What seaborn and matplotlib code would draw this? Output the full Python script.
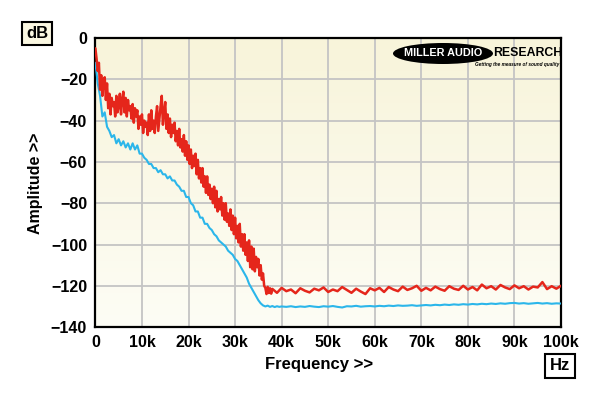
import numpy as np
import pandas as pd
import seaborn as sns
import matplotlib
matplotlib.use("Agg")
from matplotlib import pyplot as plt
from matplotlib.patches import Ellipse

# frequency grids (kHz)
freq_red_lo = np.arange(0, 38.25, 0.25)
freq_red_hi = np.arange(39, 101, 1)
freq_blue_lo = np.arange(0, 40.5, 0.5)
freq_blue_hi = np.arange(41, 101, 1)

red_lo = [-5, -10, -16, -12,
          -25, -18, -28, -20,
          -19, -30, -22, -34,
          -27, -37, -29, -33,
          -31, -38, -28, -36,
          -33, -27, -37, -30,
          -26, -36, -29, -38,
          -30, -35, -33, -39,
          -32, -41, -34, -38,
          -35, -44, -38, -42,
          -37, -46, -40, -43,
          -41, -47, -37, -45,
          -35, -44, -40, -46,
          -38, -33, -45, -39,
          -33, -28, -42, -36,
          -31, -44, -37, -46,
          -39, -48, -42, -46,
          -41, -50, -45, -52,
          -44, -53, -49, -55,
          -47, -57, -50, -59,
          -52, -61, -54, -63,
          -57, -62, -56, -66,
          -59, -68, -63, -70,
          -63, -72, -67, -75,
          -67, -76, -71, -78,
          -73, -80, -72, -82,
          -74, -84, -78, -83,
          -77, -86, -80, -88,
          -80, -89, -85, -91,
          -83, -93, -86, -95,
          -87, -97, -91, -99,
          -90, -101, -95, -103,
          -95, -105, -99, -108,
          -98, -111, -101, -112,
          -102, -113, -106, -111,
          -107, -115, -110, -117,
          -114, -120, -121, -124,
          -120.5, -123.5, -121.2, -123.8,
          -121.5]
red_hi = [-123.4, -121, -122.6, -121.8, -123.6, -121.2, -122.4, -123.2, -121.4, -122.2,
          -120.8, -123, -121.8, -122.6, -120.6, -122, -123.4, -121.4, -122.8, -124,
          -121.2, -122.2, -121, -123, -120.6, -121.8, -122.6, -120.4, -122, -121.2,
          -120, -122.4, -121, -122.2, -120.4, -121.6, -122.4, -120.2, -121.4, -122,
          -120, -121.8, -120.6, -122.2, -119.4, -121.2, -120.2, -121.8, -119.6, -120.8,
          -121.6, -119.8, -121.2, -120.2, -121.8, -120.4, -120.8, -118.2, -121.6, -120.2,
          -121.4, -120]

blue_lo = [-12, -22, -28, -38, -36, -43, -45, -48, -47, -51,
           -49, -52, -50, -53, -51, -54, -51, -54, -52, -56,
           -56, -58, -59, -61, -61, -63, -63, -65, -64, -66,
           -66, -68, -67, -69, -69, -71, -72, -74, -74, -77,
           -77, -80, -81, -84, -84, -87, -87, -90, -90, -92,
           -93, -95, -96, -98, -99, -100, -101, -103, -104, -105,
           -107, -108, -110, -112, -114, -116, -119, -121, -123, -125,
           -127, -128.5, -129.5, -130, -129.6, -130.2, -129.8, -130.3, -129.9, -130.2,
           -130]
blue_hi = [-130.2, -129.9, -130.3, -130, -130.2, -129.8, -130.1, -130.3, -129.9, -130.1,
           -129.8, -130.2, -130.5, -129.9, -130, -129.7, -130.1, -129.9, -129.8, -130,
           -129.7, -129.9, -129.6, -129.8, -129.5, -129.7, -129.6, -129.4, -129.7, -129.5,
           -129.3, -129.5, -129.2, -129.4, -129.1, -129.3, -129, -129.2, -128.9, -129.1,
           -128.8, -129, -128.7, -128.9, -128.6, -128.8, -128.5, -128.7, -128.4, -128.3,
           -128.6, -128.4, -128.7, -128.5, -128.3, -128.6, -128.4, -128.7, -128.5, -128.6]

x_ticks = [0, 10, 20, 30, 40, 50, 60, 70, 80, 90, 100]
x_labels = ["0", "10k", "20k", "30k", "40k", "50k", "60k", "70k", "80k", "90k", "100k"]
y_ticks = [0, -20, -40, -60, -80, -100, -120, -140]

red = pd.DataFrame({"freq": np.concatenate([freq_red_lo, freq_red_hi]),
                    "amp": red_lo + red_hi})
blue = pd.DataFrame({"freq": np.concatenate([freq_blue_lo, freq_blue_hi]),
                     "amp": blue_lo + blue_hi})

sns.set_style("white")
plt.rcParams["font.family"] = ["Liberation Sans", "DejaVu Sans"]
plt.rcParams["font.weight"] = "bold"
plt.rcParams["text.color"] = "black"

fig = plt.figure(figsize=(6, 3.96), dpi=100)
ax = fig.add_axes([0.159, 0.174, 0.776, 0.730])

# pale cream background, a bit yellower at the top
grad = np.linspace(0, 1, 100).reshape(-1, 1)
cmap = matplotlib.colors.LinearSegmentedColormap.from_list("cream", ["#fdfdf5", "#f8f4da"])
ax.imshow(grad, extent=[0, 1, 0, 1], transform=ax.transAxes, cmap=cmap,
          aspect="auto", origin="lower", zorder=0)

sns.lineplot(data=blue, x="freq", y="amp", color="#2bb6ea", linewidth=1.5, ax=ax, zorder=3)
sns.lineplot(data=red, x="freq", y="amp", color="#e5261b", linewidth=1.8, ax=ax, zorder=4)

ax.set_xlim(0, 100)
ax.set_ylim(-140, 0)
ax.set_xticks(x_ticks)
ax.set_xticklabels(x_labels)
ax.set_yticks(y_ticks)
ax.grid(True, color="#c4c4c4", linewidth=1.3, zorder=1)
ax.set_axisbelow(True)
for s in ax.spines.values():
    s.set_color("black")
    s.set_linewidth(1.6)
ax.tick_params(axis="both", length=4, width=1, color="#555555", labelcolor="black",
               labelsize=11.5, pad=2)
for lab in ax.get_xticklabels() + ax.get_yticklabels():
    lab.set_fontweight("bold")

ax.set_xlabel("Frequency >>", fontsize=12, fontweight="bold", color="black")
ax.set_ylabel("Amplitude >>", fontsize=11.5, fontweight="bold", color="black")
ax.xaxis.set_label_coords(0.481, -0.103)
ax.yaxis.set_label_coords(-0.113, 0.498)

box = dict(boxstyle="square,pad=0.22", facecolor="#fbf8e2", edgecolor="black", linewidth=1.5)
fig.text(37 / 600, 1 - 33.5 / 396, "dB", ha="center", va="center", fontsize=12,
         fontweight="bold", bbox=box)
fig.text(560 / 600, 1 - 366 / 396, "Hz", ha="center", va="center", fontsize=12,
         fontweight="bold", bbox=dict(box, facecolor="white", boxstyle="square,pad=0.28"))

# logo
logo = Ellipse((443 / 600, 1 - 53.5 / 396), 100 / 600, 21 / 396, transform=fig.transFigure,
               facecolor="black", edgecolor="none", zorder=6)
fig.patches.append(logo)
fig.text(443 / 600, 1 - 53 / 396, "MILLER AUDIO", ha="center", va="center", color="white",
         fontsize=7.8, fontweight="bold", zorder=7)
fig.text(493 / 600, 1 - 53 / 396, "RESEARCH", ha="left", va="center", color="black",
         fontsize=8.8, fontweight="bold", zorder=7)
fig.text(559 / 600, 1 - 64.5 / 396, "Getting the measure of sound quality", ha="right",
         va="center", color="black", fontsize=3.4, fontweight="bold", style="italic", zorder=7)

fig.savefig("out.png", dpi=100, facecolor="white")
